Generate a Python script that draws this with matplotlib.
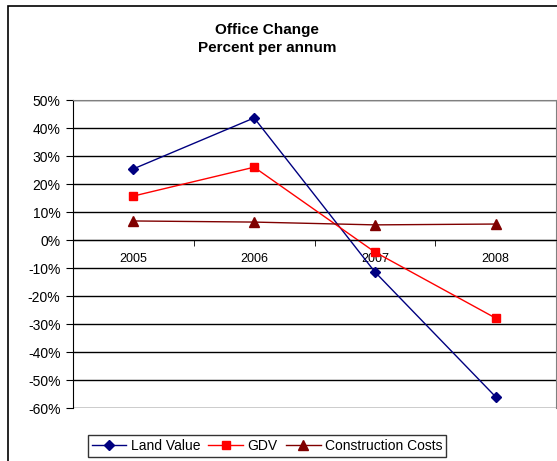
import numpy as np
import matplotlib.pyplot as plt
from matplotlib.patches import Rectangle
from matplotlib.ticker import FuncFormatter

plt.rcParams['font.family'] = ['Liberation Sans', 'DejaVu Sans']

years = ['2005', '2006', '2007', '2008']
land_value = [25.4, 43.6, -11.4, -56.0]
gdv = [15.7, 26.0, -4.3, -27.9]
construction = [6.8, 6.4, 5.4, 5.7]

fig = plt.figure(figsize=(5.57, 4.61), dpi=100)
fig.patches.append(Rectangle((8/557, -0.01), 1.0, 1 - 6/461 + 0.01, transform=fig.transFigure,
                             fill=False, edgecolor='black', linewidth=1.2))
ax = fig.add_axes([73/557, 1 - 408/461, 483/557, 308/461])

x = np.arange(len(years))
ax.plot(x, land_value, '-D', color='#000080', markersize=5, linewidth=1, label='Land Value')
ax.plot(x, gdv, '-s', color='#FF0000', markersize=6, linewidth=1, label='GDV')
ax.plot(x, construction, '-^', color='#800000', markersize=7, linewidth=1, label='Construction Costs')

ax.set_xlim(-0.5, len(years) - 0.5)
ax.set_ylim(-60, 50)
ax.set_yticks(np.arange(-60, 51, 10))
ax.yaxis.set_major_formatter(FuncFormatter(lambda v, p: f'{v:.0f}%'))
ax.grid(axis='y', color='black', linewidth=1)
ax.set_axisbelow(True)

ax.set_xticks(x)
ax.set_xticklabels(years)
ax.set_xticks(np.arange(-0.5, len(years), 1), minor=True)
ax.tick_params(axis='x', which='major', length=0, pad=9, labelsize=9)
ax.tick_params(axis='x', which='minor', length=4, direction='out', color='black')
ax.tick_params(axis='y', length=5, direction='out', labelsize=10, pad=4)

ax.spines['bottom'].set_position(('data', 0))
ax.spines['bottom'].set_color('black')
ax.spines['left'].set_color('black')
ax.spines['top'].set_color('#808080')
ax.spines['right'].set_color('#808080')

fig.text(0.48, 1 - 30/461, 'Office Change', ha='center', va='center', fontsize=11, fontweight='bold')
fig.text(0.48, 1 - 48/461, 'Percent per annum', ha='center', va='center', fontsize=11, fontweight='bold')

leg = fig.legend(loc='center', bbox_to_anchor=(267/557, 1 - 446/461), ncol=3, fontsize=10,
                 frameon=True, fancybox=False, edgecolor='black', handlelength=2.5,
                 columnspacing=0.6, handletextpad=0.3, borderpad=0.3)
leg.get_frame().set_linewidth(1)

fig.savefig('out.png', dpi=100)
